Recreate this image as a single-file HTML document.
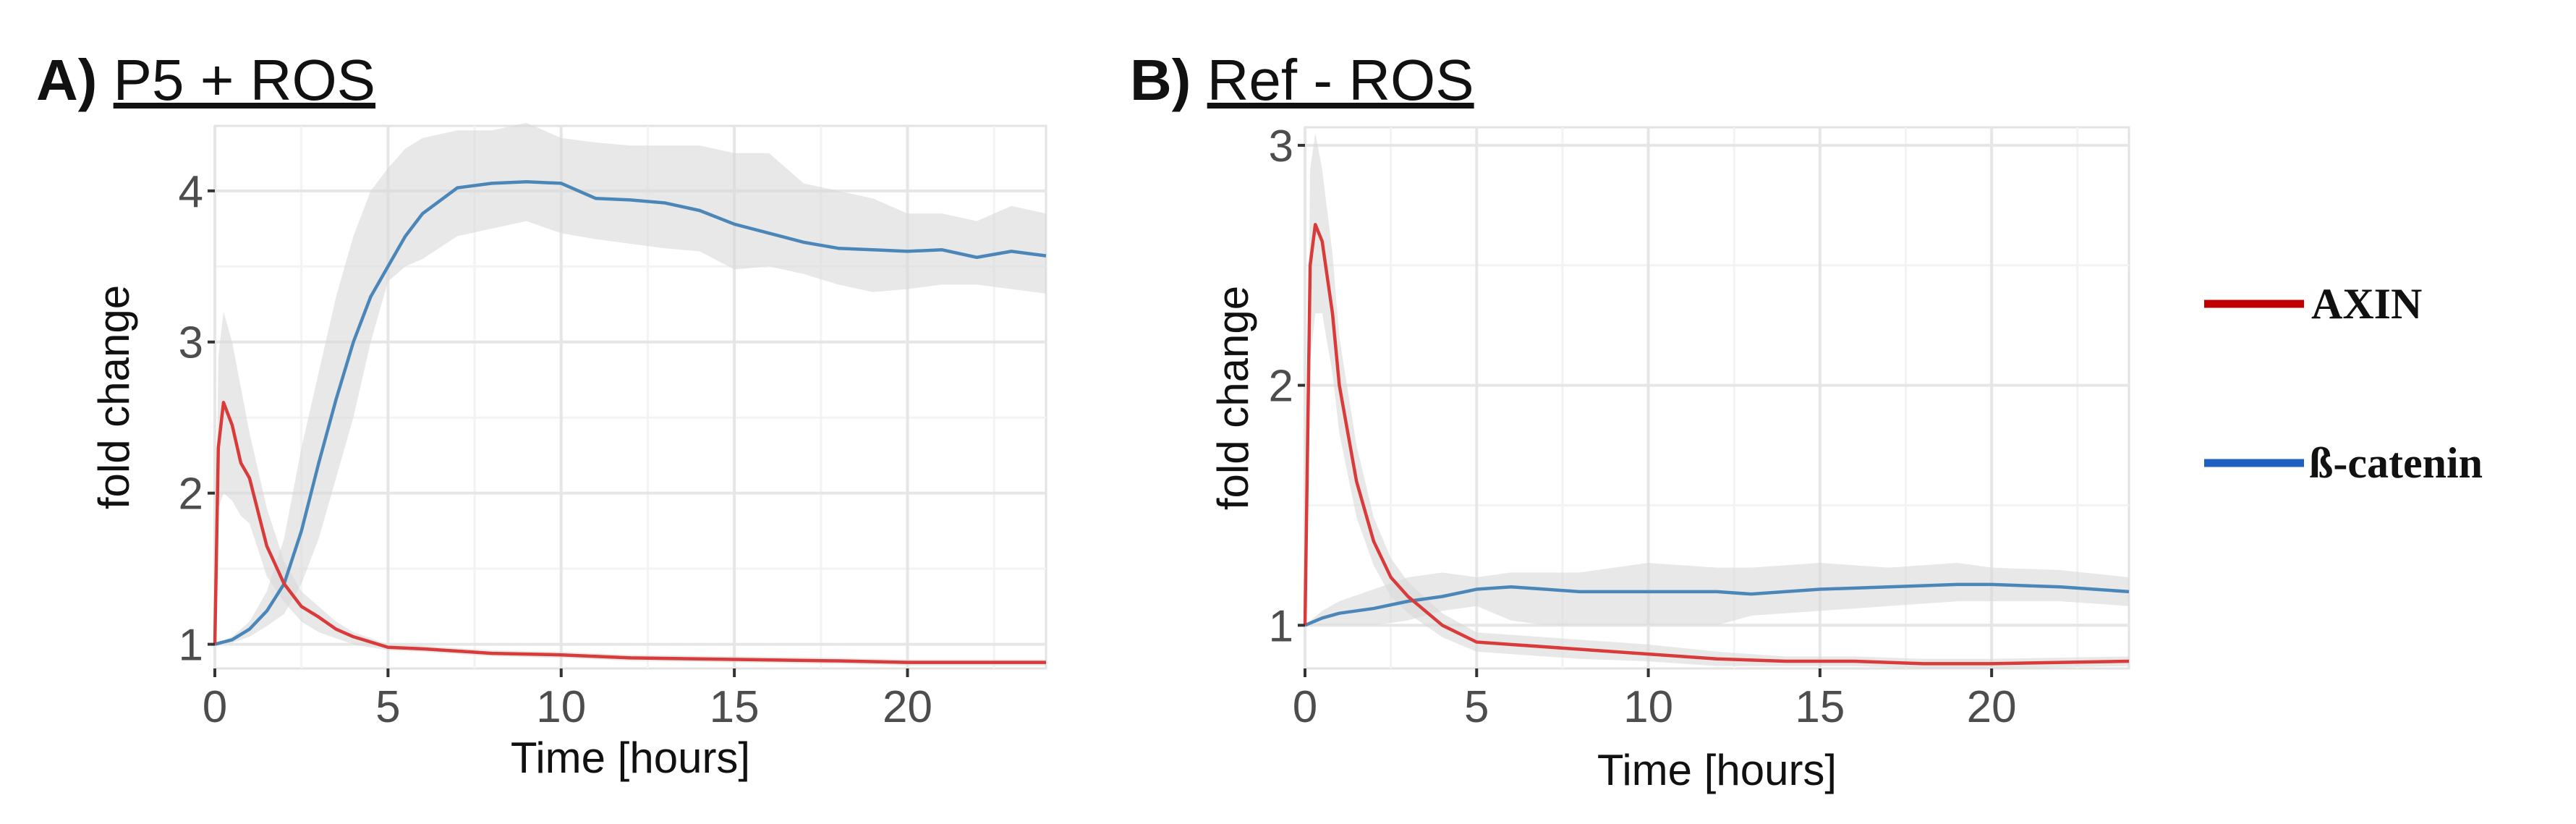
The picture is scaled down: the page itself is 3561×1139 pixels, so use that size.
<!DOCTYPE html>
<html><head><meta charset="utf-8">
<style>
html,body{margin:0;padding:0;background:#fff;}
svg{display:block;}
</style></head>
<body>
<svg id="fig" width="3561" height="1139" viewBox="0 0 3561 1139" xmlns="http://www.w3.org/2000/svg">
<rect width="3561" height="1139" fill="#fff"/>
<text x="50" y="138" font-family="Liberation Sans, sans-serif" font-size="80" fill="#111"><tspan font-weight="bold">A)</tspan> <tspan text-decoration="underline">P5 + ROS</tspan></text>
<text x="1562" y="138" font-family="Liberation Sans, sans-serif" font-size="80" fill="#111"><tspan font-weight="bold">B)</tspan> <tspan text-decoration="underline">Ref - ROS</tspan></text>
<g>
<line x1="3047" y1="420" x2="3185" y2="420" stroke="#c00000" stroke-width="11"/>
<text x="3195" y="440" font-family="Liberation Serif, serif" font-weight="bold" font-size="60" fill="#111">AXIN</text>
<line x1="3047" y1="640" x2="3185" y2="640" stroke="#1f5fc0" stroke-width="11"/>
<text x="3192" y="660" font-family="Liberation Serif, serif" font-weight="bold" font-size="60" fill="#111">ß-catenin</text>
</g>
</svg>
<script>
// ---- Panel A data ----
const aBetaT = [0,0.5,1,1.5,2,2.5,3,3.5,4,4.5,5,5.5,6,7,8,9,10,11,12,13,14,15,16,17,18,19,20,21,22,23,24];
const aBetaV = [1.0,1.03,1.1,1.22,1.4,1.75,2.2,2.62,3.0,3.3,3.5,3.7,3.85,4.02,4.05,4.06,4.05,3.95,3.94,3.92,3.87,3.78,3.72,3.66,3.62,3.61,3.6,3.61,3.56,3.6,3.57];
const aBetaHi = [1.0,1.05,1.15,1.35,1.7,2.3,2.8,3.3,3.7,4.0,4.15,4.28,4.35,4.4,4.4,4.45,4.35,4.32,4.3,4.3,4.3,4.25,4.25,4.05,4.0,3.95,3.85,3.85,3.8,3.9,3.85];
const aBetaLo = [1.0,1.01,1.05,1.12,1.2,1.4,1.7,2.1,2.5,3.0,3.4,3.5,3.55,3.7,3.75,3.8,3.72,3.68,3.65,3.62,3.6,3.48,3.5,3.45,3.38,3.33,3.35,3.38,3.38,3.35,3.32];
const aAxinT = [0,0.1,0.25,0.5,0.75,1,1.5,2,2.5,3,3.5,4,5,6,8,10,12,15,18,20,24];
const aAxinV = [1.0,2.3,2.6,2.45,2.2,2.1,1.65,1.4,1.25,1.18,1.1,1.05,0.98,0.97,0.94,0.93,0.91,0.9,0.89,0.88,0.88];
const aAxinHi = [1.0,2.9,3.2,3.0,2.7,2.4,1.9,1.55,1.35,1.25,1.15,1.08,1.0,0.99,0.96,0.95,0.93,0.92,0.91,0.9,0.9];
const aAxinLo = [1.0,1.9,2.0,1.95,1.85,1.8,1.45,1.28,1.15,1.08,1.04,1.0,0.96,0.95,0.92,0.91,0.89,0.88,0.87,0.86,0.86];
const aYTicks = [1,2,3,4];
const aYMinor = [1.5,2.5,3.5];
// ---- Panel B data ----
const bBetaT = [0,0.5,1,2,3,4,5,6,7,8,10,12,13,15,17,19,20,22,24];
const bBetaV = [1.0,1.03,1.05,1.07,1.1,1.12,1.15,1.16,1.15,1.14,1.14,1.14,1.13,1.15,1.16,1.17,1.17,1.16,1.14];
const bBetaHi = [1.0,1.06,1.1,1.15,1.2,1.22,1.2,1.22,1.22,1.22,1.26,1.24,1.24,1.26,1.24,1.26,1.24,1.23,1.2];
const bBetaLo = [1.0,1.0,1.0,1.0,1.02,1.06,1.08,1.02,1.0,1.0,1.0,1.0,1.04,1.06,1.08,1.1,1.1,1.1,1.08];
const bAxinT = [0,0.15,0.3,0.5,0.8,1,1.5,2,2.5,3,4,5,6,8,10,12,14,16,18,20,24];
const bAxinV = [1.0,2.5,2.67,2.6,2.3,2.0,1.6,1.35,1.2,1.12,1.0,0.93,0.92,0.9,0.88,0.86,0.85,0.85,0.84,0.84,0.85];
const bAxinHi = [1.0,2.9,3.05,2.9,2.55,2.2,1.75,1.45,1.28,1.18,1.05,0.97,0.96,0.94,0.92,0.89,0.87,0.87,0.86,0.86,0.87];
const bAxinLo = [1.0,2.1,2.3,2.3,2.05,1.8,1.45,1.25,1.12,1.05,0.95,0.89,0.88,0.86,0.85,0.83,0.83,0.83,0.82,0.82,0.83];
const bYTicks = [1,2,3];
const bYMinor = [1.5,2.5];
const xTicks = [0,5,10,15,20];
const xMinor = [2.5,7.5,12.5,17.5,22.5];

const NS = "http://www.w3.org/2000/svg";
const svg = document.getElementById('fig');
function mk(tag, attrs, parent){const e=document.createElementNS(NS,tag);for(const k in attrs)e.setAttribute(k,attrs[k]);(parent||svg).appendChild(e);return e;}

function panel(p){
  const g = mk('g',{});
  
  
  const sx = t => p.x0 + (t - 0) / 24 * (p.x1 - p.x0);
  const sy = v => p.y1 - (v - p.ymin) / (p.ymax - p.ymin) * (p.y1 - p.y0);
  mk('rect',{x:p.x0,y:p.y0,width:p.x1-p.x0,height:p.y1-p.y0,fill:'#fff',stroke:'#e3e3e3','stroke-width':3},g);
  p.yMinor.forEach(v=>mk('line',{x1:p.x0,x2:p.x1,y1:sy(v),y2:sy(v),stroke:'#f3f3f3','stroke-width':3},g));
  xMinor.forEach(t=>mk('line',{x1:sx(t),x2:sx(t),y1:p.y0,y2:p.y1,stroke:'#f3f3f3','stroke-width':3},g));
  p.yTicks.forEach(v=>mk('line',{x1:p.x0,x2:p.x1,y1:sy(v),y2:sy(v),stroke:'#e6e6e6','stroke-width':4},g));
  xTicks.forEach(t=>mk('line',{x1:sx(t),x2:sx(t),y1:p.y0,y2:p.y1,stroke:'#e6e6e6','stroke-width':4},g));
  function band(T,H,L,name){
    let d='M'+T.map((t,i)=>sx(t)+','+sy(H[i])).join(' L');
    for(let i=T.length-1;i>=0;i--) d+=' L'+sx(T[i])+','+sy(L[i]);
    const e=mk('path',{d:d+'Z',fill:'#d9d9d9','fill-opacity':0.6},g);
    
    
  }
  function line(T,V,col,name){
    const e=mk('polyline',{points:T.map((t,i)=>sx(t)+','+sy(V[i])).join(' '),fill:'none',stroke:col,'stroke-width':4.5,'stroke-linejoin':'round'},g);
    
    
  }
  band(p.bT,p.bH,p.bL,'bcatenin-band');
  band(p.aT,p.aH,p.aL,'axin-band');
  line(p.bT,p.bV,'#4a86b8','bcatenin-line');
  line(p.aT,p.aV,'#d93a3a','axin-line');
  p.yTicks.forEach(v=>{
    mk('line',{x1:p.x0-10,x2:p.x0,y1:sy(v),y2:sy(v),stroke:'#333','stroke-width':4},g);
    const t=mk('text',{x:p.x0-16,y:sy(v)+22,'text-anchor':'end','font-family':'Liberation Sans, sans-serif','font-size':62,fill:'#4d4d4d'},g);
    t.textContent=v;
    
    
  });
  xTicks.forEach(v=>{
    mk('line',{x1:sx(v),x2:sx(v),y1:p.y1,y2:p.y1+12,stroke:'#333','stroke-width':4},g);
    const t=mk('text',{x:sx(v),y:p.y1+74,'text-anchor':'middle','font-family':'Liberation Sans, sans-serif','font-size':62,fill:'#4d4d4d'},g);
    t.textContent=v;
    
    
  });
  const xt=mk('text',{x:(p.x0+p.x1)/2,y:p.xtY,'text-anchor':'middle','font-family':'Liberation Sans, sans-serif','font-size':60,fill:'#111'},g);
  xt.textContent='Time [hours]';
  
  
  const yt=mk('text',{x:0,y:0,transform:'translate('+p.ytX+','+((p.y0+p.y1)/2)+') rotate(-90)','text-anchor':'middle','font-family':'Liberation Sans, sans-serif','font-size':60,fill:'#111'},g);
  yt.textContent='fold change';
  
  
}
panel({name:'panel-a',x0:297,x1:1446,y0:174,y1:924,ymin:0.84,ymax:4.43,yTicks:aYTicks,yMinor:aYMinor,
  bT:aBetaT,bV:aBetaV,bH:aBetaHi,bL:aBetaLo,aT:aAxinT,aV:aAxinV,aH:aAxinHi,aL:aAxinLo,xtY:1068,ytX:178});
panel({name:'panel-b',x0:1804,x1:2943,y0:176,y1:924,ymin:0.82,ymax:3.075,yTicks:bYTicks,yMinor:bYMinor,
  bT:bBetaT,bV:bBetaV,bH:bBetaHi,bL:bBetaLo,aT:bAxinT,aV:bAxinV,aH:bAxinHi,aL:bAxinLo,xtY:1085,ytX:1725});
</script>
</body></html>
